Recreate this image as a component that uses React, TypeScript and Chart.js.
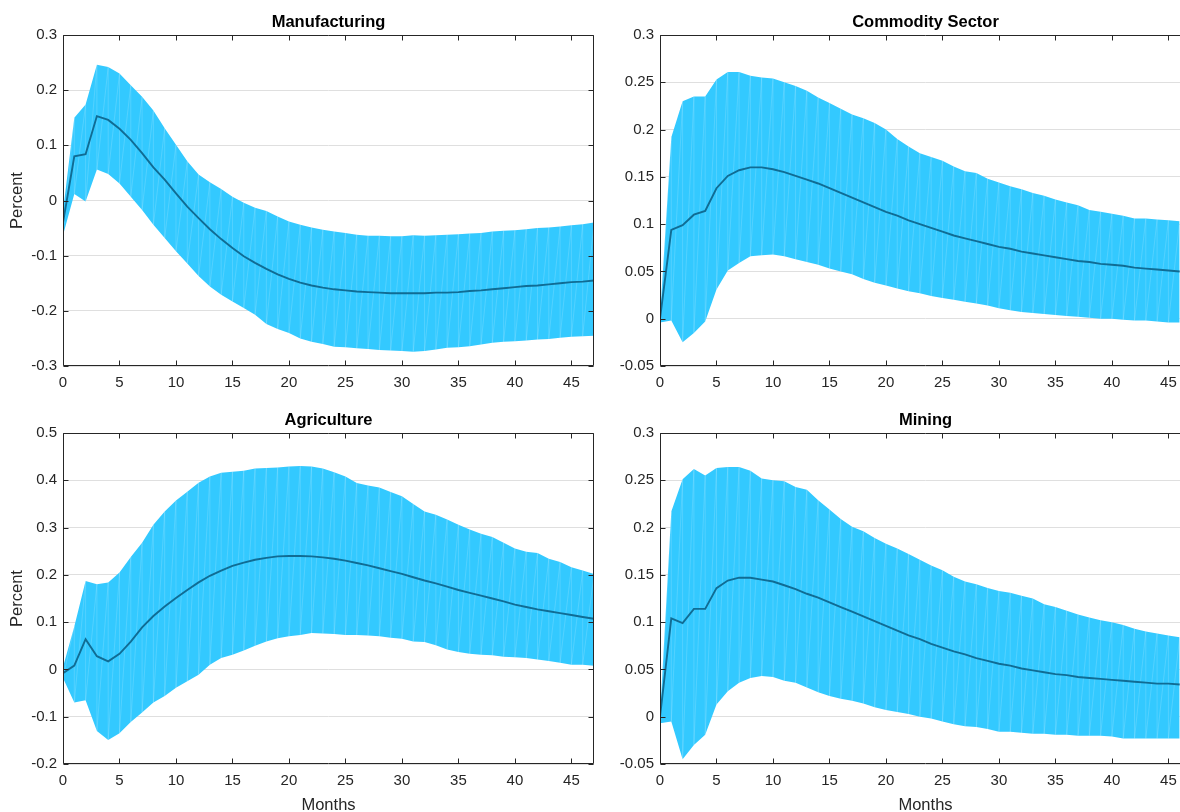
import React, { useEffect, useRef } from 'react';
import { Chart, registerables } from 'chart.js';

Chart.register(...registerables);

// ---- shared axis ticks ----
const X_TICKS = [0, 5, 10, 15, 20, 25, 30, 35, 40, 45];
const X_TICK_LABELS = ['0', '5', '10', '15', '20', '25', '30', '35', '40', '45'];

const MFG_Y_TICKS = [-0.3, -0.2, -0.1, 0, 0.1, 0.2, 0.3];
const MFG_Y_LABELS = ['-0.3', '-0.2', '-0.1', '0', '0.1', '0.2', '0.3'];
const COM_Y_TICKS = [-0.05, 0, 0.05, 0.1, 0.15, 0.2, 0.25, 0.3];
const COM_Y_LABELS = ['-0.05', '0', '0.05', '0.1', '0.15', '0.2', '0.25', '0.3'];
const AGR_Y_TICKS = [-0.2, -0.1, 0, 0.1, 0.2, 0.3, 0.4, 0.5];
const AGR_Y_LABELS = ['-0.2', '-0.1', '0', '0.1', '0.2', '0.3', '0.4', '0.5'];
const MIN_Y_TICKS = [-0.05, 0, 0.05, 0.1, 0.15, 0.2, 0.25, 0.3];
const MIN_Y_LABELS = ['-0.05', '0', '0.05', '0.1', '0.15', '0.2', '0.25', '0.3'];

// ---- Manufacturing: months 0..47 ----
const MFG_MEDIAN = [
  -0.040, 0.080, 0.084, 0.153, 0.146, 0.130, 0.110, 0.086, 0.060, 0.038,
  0.013, -0.011, -0.032, -0.052, -0.070, -0.086, -0.101, -0.113, -0.124, -0.134,
  -0.142, -0.149, -0.154, -0.158, -0.161, -0.163, -0.165, -0.166, -0.167, -0.168,
  -0.168, -0.168, -0.168, -0.167, -0.167, -0.166, -0.164, -0.163, -0.161, -0.159,
  -0.157, -0.155, -0.154, -0.152, -0.150, -0.148, -0.147, -0.145,
];
const MFG_UPPER = [
  -0.020, 0.150, 0.174, 0.246, 0.242, 0.230, 0.209, 0.188, 0.163, 0.131,
  0.101, 0.071, 0.047, 0.033, 0.021, 0.007, -0.004, -0.013, -0.019, -0.029,
  -0.038, -0.044, -0.049, -0.053, -0.056, -0.059, -0.062, -0.064, -0.064, -0.065,
  -0.065, -0.063, -0.064, -0.063, -0.062, -0.061, -0.060, -0.059, -0.056, -0.055,
  -0.054, -0.052, -0.050, -0.049, -0.047, -0.045, -0.043, -0.040,
];
const MFG_LOWER = [
  -0.063, 0.012, -0.002, 0.056, 0.048, 0.031, 0.007, -0.017, -0.044, -0.068,
  -0.092, -0.114, -0.137, -0.156, -0.171, -0.183, -0.195, -0.207, -0.224, -0.233,
  -0.240, -0.250, -0.256, -0.260, -0.265, -0.266, -0.268, -0.269, -0.271, -0.272,
  -0.273, -0.274, -0.273, -0.270, -0.267, -0.266, -0.264, -0.261, -0.258, -0.256,
  -0.255, -0.254, -0.252, -0.251, -0.249, -0.247, -0.246, -0.245,
];

// ---- Commodity Sector: months 0..46 ----
const COM_MEDIAN = [
  0.000, 0.094, 0.099, 0.110, 0.114, 0.138, 0.151, 0.157, 0.160, 0.160,
  0.158, 0.155, 0.151, 0.147, 0.143, 0.138, 0.133, 0.128, 0.123, 0.118,
  0.113, 0.109, 0.104, 0.100, 0.096, 0.092, 0.088, 0.085, 0.082, 0.079,
  0.076, 0.074, 0.071, 0.069, 0.067, 0.065, 0.063, 0.061, 0.060, 0.058,
  0.057, 0.056, 0.054, 0.053, 0.052, 0.051, 0.050,
];
const COM_UPPER = [
  0.002, 0.192, 0.230, 0.235, 0.235, 0.253, 0.261, 0.261, 0.257, 0.255,
  0.254, 0.250, 0.246, 0.241, 0.234, 0.228, 0.222, 0.216, 0.212, 0.207,
  0.200, 0.190, 0.182, 0.175, 0.171, 0.167, 0.161, 0.156, 0.154, 0.148,
  0.144, 0.140, 0.137, 0.133, 0.130, 0.126, 0.123, 0.120, 0.115, 0.113,
  0.111, 0.109, 0.106, 0.106, 0.105, 0.104, 0.103,
];
const COM_LOWER = [
  -0.004, -0.002, -0.025, -0.015, -0.003, 0.031, 0.051, 0.059, 0.066, 0.067,
  0.068, 0.066, 0.063, 0.060, 0.057, 0.053, 0.050, 0.047, 0.042, 0.038,
  0.035, 0.032, 0.029, 0.027, 0.024, 0.022, 0.020, 0.018, 0.016, 0.014,
  0.011, 0.009, 0.007, 0.006, 0.005, 0.004, 0.003, 0.002, 0.001, 0.000,
  0.000, -0.001, -0.002, -0.002, -0.003, -0.004, -0.004,
];

// ---- Agriculture: months 0..47 ----
const AGR_MEDIAN = [
  -0.008, 0.008, 0.064, 0.028, 0.017, 0.033, 0.059, 0.089, 0.113, 0.133,
  0.151, 0.168, 0.184, 0.198, 0.209, 0.219, 0.226, 0.232, 0.236, 0.239,
  0.240, 0.240, 0.239, 0.237, 0.234, 0.230, 0.225, 0.220, 0.214, 0.208,
  0.202, 0.195, 0.188, 0.182, 0.175, 0.168, 0.162, 0.156, 0.150, 0.144,
  0.137, 0.132, 0.127, 0.123, 0.119, 0.115, 0.111, 0.107,
];
const AGR_UPPER = [
  0.005, 0.091, 0.187, 0.180, 0.184, 0.205, 0.238, 0.268, 0.306, 0.334,
  0.357, 0.376, 0.395, 0.408, 0.416, 0.418, 0.420, 0.425, 0.426, 0.427,
  0.429, 0.430, 0.429, 0.425, 0.417, 0.408, 0.394, 0.389, 0.385, 0.375,
  0.366, 0.350, 0.334, 0.327, 0.317, 0.306, 0.296, 0.287, 0.280, 0.268,
  0.256, 0.249, 0.246, 0.234, 0.227, 0.216, 0.209, 0.202,
];
const AGR_LOWER = [
  -0.018, -0.070, -0.065, -0.130, -0.149, -0.135, -0.111, -0.091, -0.070, -0.056,
  -0.039, -0.025, -0.011, 0.010, 0.024, 0.031, 0.040, 0.050, 0.059, 0.066,
  0.070, 0.073, 0.077, 0.076, 0.075, 0.073, 0.073, 0.072, 0.070, 0.067,
  0.065, 0.059, 0.058, 0.051, 0.042, 0.037, 0.033, 0.031, 0.030, 0.027,
  0.026, 0.024, 0.021, 0.018, 0.014, 0.010, 0.010, 0.008,
];

// ---- Mining: months 0..46 ----
const MIN_MEDIAN = [
  0.000, 0.104, 0.099, 0.114, 0.114, 0.136, 0.144, 0.147, 0.147, 0.145,
  0.143, 0.139, 0.135, 0.130, 0.126, 0.121, 0.116, 0.111, 0.106, 0.101,
  0.096, 0.091, 0.086, 0.082, 0.077, 0.073, 0.069, 0.066, 0.062, 0.059,
  0.056, 0.054, 0.051, 0.049, 0.047, 0.045, 0.044, 0.042, 0.041, 0.040,
  0.039, 0.038, 0.037, 0.036, 0.035, 0.035, 0.034,
];
const MIN_UPPER = [
  0.001, 0.217, 0.251, 0.262, 0.255, 0.263, 0.264, 0.264, 0.260, 0.252,
  0.250, 0.249, 0.243, 0.240, 0.229, 0.219, 0.209, 0.201, 0.196, 0.189,
  0.183, 0.178, 0.172, 0.166, 0.160, 0.155, 0.148, 0.143, 0.140, 0.136,
  0.133, 0.131, 0.128, 0.125, 0.119, 0.116, 0.112, 0.108, 0.105, 0.102,
  0.100, 0.097, 0.093, 0.090, 0.088, 0.086, 0.084,
];
const MIN_LOWER = [
  -0.007, -0.005, -0.045, -0.030, -0.019, 0.013, 0.027, 0.036, 0.041, 0.043,
  0.042, 0.038, 0.036, 0.031, 0.026, 0.022, 0.019, 0.017, 0.014, 0.010,
  0.007, 0.005, 0.003, 0.000, -0.002, -0.005, -0.008, -0.010, -0.011, -0.013,
  -0.016, -0.016, -0.017, -0.018, -0.018, -0.019, -0.019, -0.020, -0.020, -0.020,
  -0.021, -0.023, -0.023, -0.023, -0.023, -0.023, -0.023,
];

// ---- styling ----
const FONT_FAMILY = '"Liberation Sans", Arial, Helvetica, sans-serif';
const AXIS_COLOR = '#262626';
const GRID_COLOR = '#dfdfdf';
const BAND_COLOR = 'rgb(51, 201, 255)';
const SEAM_COLOR = 'rgba(255, 255, 255, 0.2)';
const LINE_COLOR = 'rgb(16, 108, 148)';
const TICK_LEN = 5;

type FrameOpts = {
  title: string;
  yLabel?: string;
  xLabel?: string;
  xLabelOffset?: number;
};

// Box, inward tick marks, title and axis labels (MATLAB-like axes)
const framePlugin = {
  id: 'frame',
  afterDatasetsDraw(chart: any, _args: any, opts: FrameOpts) {
    const { ctx, chartArea: a, scales } = chart;
    const xs = scales.x;
    const ys = scales.y;
    const L = Math.round(a.left) + 0.5;
    const R = Math.round(a.right) - 0.5;
    const T = Math.round(a.top) + 0.5;
    const B = Math.round(a.bottom) - 0.5;
    ctx.save();
    ctx.strokeStyle = AXIS_COLOR;
    ctx.lineWidth = 1;
    ctx.beginPath();
    ctx.moveTo(L, B);
    ctx.lineTo(L, T);
    ctx.lineTo(R, T);
    ctx.lineTo(R, B);
    ctx.closePath();
    ctx.stroke();

    ctx.beginPath();
    xs.ticks.forEach((t: any) => {
      const px = Math.round(xs.getPixelForValue(t.value)) + 0.5;
      ctx.moveTo(px, B);
      ctx.lineTo(px, B - TICK_LEN);
      ctx.moveTo(px, T);
      ctx.lineTo(px, T + TICK_LEN);
    });
    ys.ticks.forEach((t: any) => {
      const py = Math.round(ys.getPixelForValue(t.value)) + 0.5;
      ctx.moveTo(L, py);
      ctx.lineTo(L + TICK_LEN, py);
      ctx.moveTo(R, py);
      ctx.lineTo(R - TICK_LEN, py);
    });
    ctx.stroke();

    const cx = (a.left + a.right) / 2;
    ctx.fillStyle = '#000000';
    ctx.font = `bold 16.5px ${FONT_FAMILY}`;
    ctx.textAlign = 'center';
    ctx.textBaseline = 'alphabetic';
    ctx.fillText(opts.title, cx, a.top - 8);

    ctx.fillStyle = AXIS_COLOR;
    ctx.font = `16.5px ${FONT_FAMILY}`;
    if (opts.xLabel) {
      ctx.fillText(opts.xLabel, cx, a.bottom + (opts.xLabelOffset ?? 45));
    }
    if (opts.yLabel) {
      ctx.save();
      ctx.translate(22, (a.top + a.bottom) / 2);
      ctx.rotate(-Math.PI / 2);
      ctx.textAlign = 'center';
      ctx.textBaseline = 'alphabetic';
      ctx.fillText(opts.yLabel, 0, 0);
      ctx.restore();
    }
    ctx.restore();
  },
};

// Faint triangulation seams inside the confidence band, drawn under the median line
const seamPlugin = {
  id: 'seams',
  beforeDatasetDraw(chart: any, args: any) {
    if (args.index !== 0) return;
    const up = chart.getDatasetMeta(1).data;
    const lo = chart.getDatasetMeta(2).data;
    const { ctx, chartArea: a } = chart;
    ctx.save();
    ctx.beginPath();
    ctx.rect(a.left, a.top, a.right - a.left, a.bottom - a.top);
    ctx.clip();
    ctx.strokeStyle = SEAM_COLOR;
    ctx.lineWidth = 0.8;
    ctx.beginPath();
    for (let i = 0; i < up.length; i++) {
      ctx.moveTo(up[i].x, up[i].y);
      ctx.lineTo(lo[i].x, lo[i].y);
      if (i + 1 < up.length) {
        ctx.moveTo(lo[i].x, lo[i].y);
        ctx.lineTo(up[i + 1].x, up[i + 1].y);
      }
    }
    ctx.stroke();
    ctx.restore();
  },
};

type PanelProps = {
  left: number;
  top: number;
  width: number;
  height: number;
  padTop: number;
  padRight: number;
  yAxisWidth: number;
  xAxisHeight: number;
  xMax: number;
  yTicks: number[];
  yLabels: string[];
  median: number[];
  upper: number[];
  lower: number[];
  frame: FrameOpts;
};

function Panel(p: PanelProps) {
  const ref = useRef<HTMLCanvasElement | null>(null);

  useEffect(() => {
    if (!ref.current) return;
    const pts = (vals: number[]) => vals.map((y, i) => ({ x: i, y }));
    const tickFont = { family: FONT_FAMILY, size: 15 };
    const chart = new Chart(ref.current, {
      type: 'line',
      data: {
        datasets: [
          {
            data: pts(p.median),
            borderColor: LINE_COLOR,
            borderWidth: 1.9,
            pointRadius: 0,
            tension: 0,
            fill: false,
          },
          {
            data: pts(p.upper),
            borderColor: 'rgba(0,0,0,0)',
            borderWidth: 0,
            backgroundColor: BAND_COLOR,
            pointRadius: 0,
            tension: 0,
            fill: '+1',
          },
          {
            data: pts(p.lower),
            borderColor: 'rgba(0,0,0,0)',
            borderWidth: 0,
            pointRadius: 0,
            tension: 0,
            fill: false,
          },
        ],
      },
      options: {
        animation: false,
        responsive: false,
        devicePixelRatio: 1,
        events: [],
        layout: { padding: { top: p.padTop, right: p.padRight, left: 0, bottom: 0 } },
        plugins: {
          legend: { display: false },
          tooltip: { enabled: false },
          title: { display: false },
          frame: p.frame,
        } as any,
        scales: {
          x: {
            type: 'linear',
            min: 0,
            max: p.xMax,
            afterBuildTicks: (s: any) => {
              s.ticks = X_TICKS.map((v) => ({ value: v }));
            },
            afterFit: (s: any) => {
              s.height = p.xAxisHeight;
            },
            grid: { display: false, drawTicks: false },
            border: { display: false },
            ticks: {
              font: tickFont,
              color: AXIS_COLOR,
              padding: 8,
              maxRotation: 0,
              autoSkip: false,
              callback: (_v: any, i: number) => X_TICK_LABELS[i],
            },
          },
          y: {
            type: 'linear',
            min: p.yTicks[0],
            max: p.yTicks[p.yTicks.length - 1],
            afterBuildTicks: (s: any) => {
              s.ticks = p.yTicks.map((v) => ({ value: v }));
            },
            afterFit: (s: any) => {
              s.width = p.yAxisWidth;
            },
            grid: { color: GRID_COLOR, lineWidth: 1, drawTicks: false },
            border: { display: false },
            ticks: {
              font: tickFont,
              color: AXIS_COLOR,
              padding: 6,
              autoSkip: false,
              callback: (_v: any, i: number) => p.yLabels[i],
            },
          },
        },
      } as any,
      plugins: [seamPlugin, framePlugin],
    });
    return () => chart.destroy();
  }, []);

  return (
    <div style={{ position: 'absolute', left: p.left, top: p.top, width: p.width, height: p.height }}>
      <canvas ref={ref} width={p.width} height={p.height} style={{ width: p.width, height: p.height, display: 'block' }} />
    </div>
  );
}

export default function App() {
  return (
    <div
      style={{
        position: 'fixed',
        left: 0,
        top: 0,
        width: 1180,
        height: 812,
        overflow: 'hidden',
        background: '#ffffff',
      }}
    >
      <Panel
        left={0}
        top={0}
        width={600}
        height={400}
        padTop={35}
        padRight={6}
        yAxisWidth={63}
        xAxisHeight={34}
        xMax={47}
        yTicks={MFG_Y_TICKS}
        yLabels={MFG_Y_LABELS}
        median={MFG_MEDIAN}
        upper={MFG_UPPER}
        lower={MFG_LOWER}
        frame={{ title: 'Manufacturing', yLabel: 'Percent' }}
      />
      <Panel
        left={600}
        top={0}
        width={600}
        height={400}
        padTop={35}
        padRight={9}
        yAxisWidth={60}
        xAxisHeight={34}
        xMax={47}
        yTicks={COM_Y_TICKS}
        yLabels={COM_Y_LABELS}
        median={COM_MEDIAN}
        upper={COM_UPPER}
        lower={COM_LOWER}
        frame={{ title: 'Commodity Sector' }}
      />
      <Panel
        left={0}
        top={400}
        width={600}
        height={412}
        padTop={33}
        padRight={6}
        yAxisWidth={63}
        xAxisHeight={48}
        xMax={47}
        yTicks={AGR_Y_TICKS}
        yLabels={AGR_Y_LABELS}
        median={AGR_MEDIAN}
        upper={AGR_UPPER}
        lower={AGR_LOWER}
        frame={{ title: 'Agriculture', yLabel: 'Percent', xLabel: 'Months', xLabelOffset: 45.5 }}
      />
      <Panel
        left={600}
        top={400}
        width={600}
        height={412}
        padTop={33}
        padRight={9}
        yAxisWidth={60}
        xAxisHeight={48}
        xMax={47}
        yTicks={MIN_Y_TICKS}
        yLabels={MIN_Y_LABELS}
        median={MIN_MEDIAN}
        upper={MIN_UPPER}
        lower={MIN_LOWER}
        frame={{ title: 'Mining', xLabel: 'Months', xLabelOffset: 45.5 }}
      />
    </div>
  );
}
